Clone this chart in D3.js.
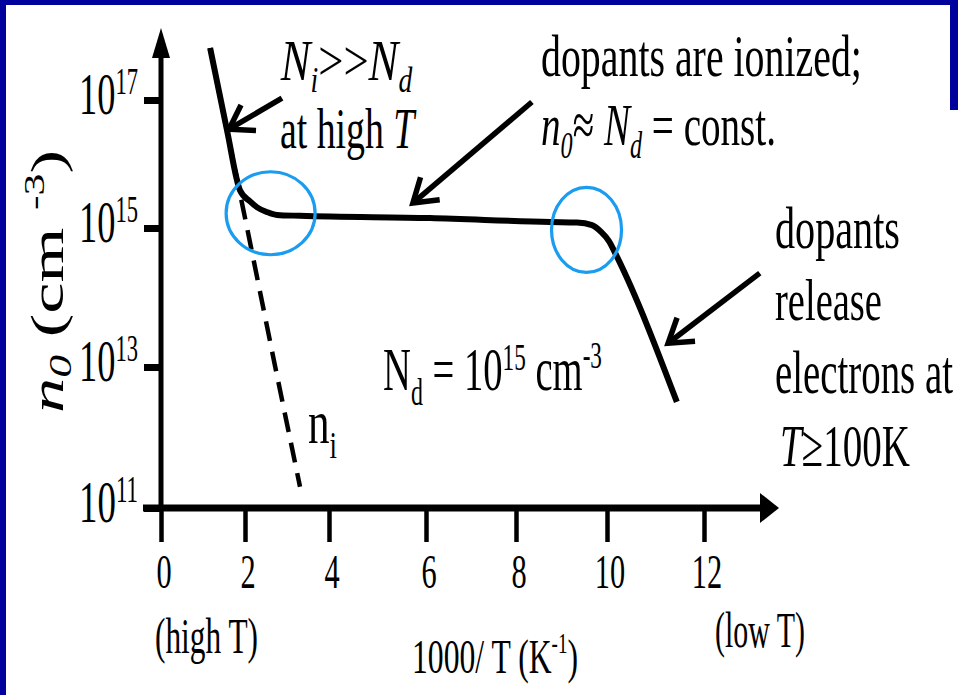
<!DOCTYPE html>
<html>
<head>
<meta charset="utf-8">
<script src="https://cdn.jsdelivr.net/npm/d3@7"></script>
<style>
  html, body { margin: 0; padding: 0; background: #fff; }
  svg { display: block; }
  text { font-family: "Liberation Serif", "Times New Roman", serif; fill: #000; white-space: pre; }
</style>
</head>
<body>
<svg id="chart" width="958" height="695"></svg>
<script>
// Electron concentration n0 versus inverse temperature (Nd = 1e15 cm^-3)
const invT = [1.17, 1.57, 1.88, 2.12, 2.29, 2.52, 2.76, 3.31, 6.09, 8.75, 9.34, 9.67, 9.87, 10.04, 10.21, 11.44];
const n0   = [6.5e17, 3.4e16, 3.9e15, 2.6e15, 2.1e15, 1.78e15, 1.6e15, 1.55e15, 1.43e15, 1.24e15, 1.22e15, 1.11e15, 8.8e14, 6.5e14, 3.8e14, 3.2e12];

// intrinsic carrier concentration ni
const niInvT = [1.17, 1.42, 2.05, 2.72, 3.31];
const ni     = [6.5e17, 1e17, 1e15, 1e13, 2e11];

// axis ticks
const xTicks = [0, 2, 4, 6, 8, 10, 12];
const yTicks = [1e11, 1e13, 1e15, 1e17];
const yTickExp = ["11", "13", "15", "17"];

// highlighted transition regions (centres in data units)
const regionInvT = [2.61, 9.55];
const regionN    = [1.7e15, 9.4e14];

// annotation arrows: tail -> head, in data units
const arrowTailInvT = [2.88, 8.35, 13.15];
const arrowTailN    = [1.07e17, 9.3e16, 2.24e14];
const arrowHeadInvT = [1.62, 5.73, 11.26];
const arrowHeadN    = [3.5e16, 2.45e15, 2.2e13];

const svg = d3.select("#chart");
const W = 958, H = 695;

// slide frame
svg.append("rect").attr("width", W).attr("height", H).attr("fill", "#fff");
svg.append("rect").attr("x", 0).attr("y", 0).attr("width", W).attr("height", 5).attr("fill", "#00009c");
svg.append("rect").attr("x", 0).attr("y", 0).attr("width", 6).attr("height", H).attr("fill", "#00009c");
svg.append("rect").attr("x", W - 8).attr("y", 0).attr("width", 8).attr("height", 110).attr("fill", "#00009c");

// scales (hand-drawn axes are not perfectly uniform, so piecewise)
const x = d3.scaleLinear().domain(xTicks).range([161, 245, 329, 426, 516, 607, 704]);
const y = d3.scaleLog().domain(yTicks).range([508, 367, 228, 100]);

const g = svg.append("g");

// axes: ticks via d3 axis generators
const xAxis = g.append("g").attr("transform", "translate(0,508)")
  .call(d3.axisBottom(x).tickValues(xTicks).tickSize(34).tickFormat(""));
xAxis.select(".domain").remove();
xAxis.selectAll(".tick line").attr("stroke", "#000").attr("stroke-width", 4.5);

const yAxis = g.append("g").attr("transform", "translate(161,0)")
  .call(d3.axisLeft(y).tickValues(yTicks).tickSize(17).tickFormat(""));
yAxis.select(".domain").remove();
yAxis.selectAll(".tick line").attr("stroke", "#000").attr("stroke-width", 7);

// axis lines with arrow heads
g.append("line").attr("x1", 161).attr("x2", 161).attr("y1", 56).attr("y2", 510)
  .attr("stroke", "#000").attr("stroke-width", 5);
g.append("path").attr("d", "M161,28 L170,58 L152,58 Z").attr("fill", "#000");
g.append("line").attr("x1", 143).attr("x2", 762).attr("y1", 508).attr("y2", 508)
  .attr("stroke", "#000").attr("stroke-width", 7);
g.append("path").attr("d", "M779,508 L760,493 L760,523 Z").attr("fill", "#000");

// ni (dashed)
const niLine = d3.line().x(d => x(d[0])).y(d => y(d[1]));
g.append("path")
  .datum(niInvT.map((v, i) => [v, ni[i]]))
  .attr("d", niLine)
  .attr("fill", "none").attr("stroke", "#000").attr("stroke-width", 4.5)
  .attr("stroke-dasharray", "20,11");

// n0 (solid)
const n0Line = d3.line().x(d => x(d[0])).y(d => y(d[1])).curve(d3.curveMonotoneX);
g.append("path")
  .datum(invT.map((v, i) => [v, n0[i]]))
  .attr("d", n0Line)
  .attr("fill", "none").attr("stroke", "#000").attr("stroke-width", 6)
  .attr("stroke-linecap", "butt").attr("stroke-linejoin", "round");

// circled transitions
const regionRx = [44.5, 35], regionRy = [41.5, 42.5];
regionInvT.forEach((v, i) => {
  g.append("ellipse")
    .attr("cx", x(v)).attr("cy", y(regionN[i]))
    .attr("rx", regionRx[i]).attr("ry", regionRy[i])
    .attr("fill", "none").attr("stroke", "#1a9cf0").attr("stroke-width", 3.2);
});

// annotation arrows
arrowTailInvT.forEach((v, i) => {
  const x1 = x(v), y1 = y(arrowTailN[i]);
  const x2 = x(arrowHeadInvT[i]), y2 = y(arrowHeadN[i]);
  const a = Math.atan2(y1 - y2, x1 - x2);
  const L = 27, h = 0.58;
  const w1 = [x2 + L * Math.cos(a - h), y2 + L * Math.sin(a - h)];
  const w2 = [x2 + L * Math.cos(a + h), y2 + L * Math.sin(a + h)];
  g.append("line").attr("x1", x1).attr("y1", y1).attr("x2", x2).attr("y2", y2)
    .attr("stroke", "#000").attr("stroke-width", 5.5);
  g.append("path").attr("d", `M${w1[0]},${w1[1]} L${x2},${y2} L${w2[0]},${w2[1]}`)
    .attr("fill", "none").attr("stroke", "#000").attr("stroke-width", 5.5)
    .attr("stroke-linejoin", "miter").attr("stroke-miterlimit", 10);
});

// text helper: builds a text from parts, then squeezes it horizontally to a set width
function fitText(parent, spec) {
  const t = parent.append("text").attr("font-size", spec.size);
  let cur = 0;
  spec.parts.forEach(p => {
    const s = t.append("tspan").text(p.t);
    if (p.italic) s.attr("font-style", "italic");
    if (p.scale) s.attr("font-size", spec.size * p.scale);
    const shift = p.shift || 0;
    if (shift !== cur) s.attr("dy", shift - cur);
    cur = shift;
  });
  const bb = t.node().getBBox();
  const sx = spec.width / bb.width;
  if (spec.rotate) {
    t.attr("transform", `translate(${spec.x},${spec.y}) rotate(${spec.rotate}) scale(${sx},1) translate(${-bb.x},0)`);
  } else {
    t.attr("transform", `translate(${spec.x},${spec.y}) scale(${sx},1) translate(${-bb.x},0)`);
  }
  return t;
}

// y tick labels 10^n
yTicks.forEach((v, i) => {
  fitText(g, { x: 79, y: y(v) + 14, size: 60, width: 59,
    parts: [{ t: "10" }, { t: yTickExp[i], scale: 0.62, shift: -20 }] });
});

// x tick labels
xTicks.forEach(v => {
  const t = g.append("text").attr("font-size", 49).attr("text-anchor", "middle").text(String(v));
  t.attr("transform", `translate(${x(v) + 3},588) scale(0.62,1)`);
});

// axis titles
fitText(g, { x: 155, y: 653, size: 50, width: 103, parts: [{ t: "(high T)" }] });
fitText(g, { x: 715, y: 647, size: 50, width: 90, parts: [{ t: "(low T)" }] });
fitText(g, { x: 412, y: 673, size: 49, width: 166,
  parts: [{ t: "1000/ T (K" }, { t: "-1", scale: 0.6, shift: -20 }, { t: ")" }] });
fitText(g, { x: 63, y: 413, size: 47, width: 263, rotate: -90,
  parts: [{ t: "n", italic: true }, { t: "0", italic: true, scale: 0.65, shift: 8 }, { t: " (cm " },
          { t: "-3", scale: 0.62, shift: -19 }, { t: ")" }] });

// annotations
fitText(g, { x: 280, y: 80, size: 58, width: 133,
  parts: [{ t: "N", italic: true }, { t: "i", italic: true, scale: 0.62, shift: 12 }, { t: ">>" },
          { t: "N", italic: true }, { t: "d", italic: true, scale: 0.62, shift: 12 }] });
fitText(g, { x: 280, y: 148, size: 56, width: 137, parts: [{ t: "at high " }, { t: "T", italic: true }] });

fitText(g, { x: 541, y: 76, size: 60, width: 321, parts: [{ t: "dopants are ionized;" }] });
fitText(g, { x: 541, y: 145, size: 60, width: 235,
  parts: [{ t: "n", italic: true }, { t: "0", italic: true, scale: 0.62, shift: 13 }, { t: "≈ " },
          { t: "N", italic: true }, { t: "d", italic: true, scale: 0.62, shift: 13 }, { t: " = const." }] });

fitText(g, { x: 775, y: 248, size: 60, width: 125, parts: [{ t: "dopants" }] });
fitText(g, { x: 775, y: 320, size: 60, width: 107, parts: [{ t: "release" }] });
fitText(g, { x: 775, y: 393, size: 62, width: 178, parts: [{ t: "electrons at" }] });
fitText(g, { x: 780, y: 466, size: 60, width: 130, parts: [{ t: "T", italic: true }, { t: "≥100K" }] });

fitText(g, { x: 383, y: 390, size: 62, width: 219,
  parts: [{ t: "N" }, { t: "d", scale: 0.62, shift: 15 }, { t: " = 10" }, { t: "15", scale: 0.6, shift: -20 },
          { t: " cm" }, { t: "-3", scale: 0.6, shift: -22 }] });
fitText(g, { x: 308, y: 443, size: 62, width: 29,
  parts: [{ t: "n" }, { t: "i", scale: 0.62, shift: 15 }] });
</script>
</body>
</html>
